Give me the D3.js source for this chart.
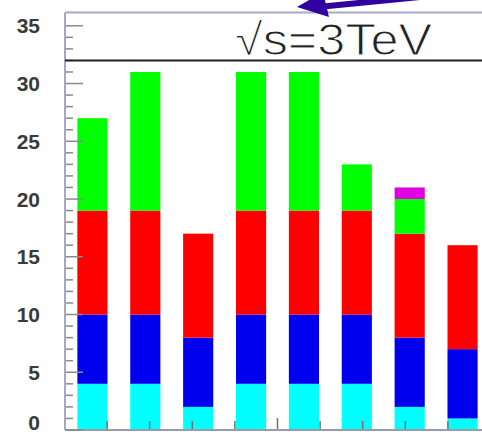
<!DOCTYPE html>
<html>
<head>
<meta charset="utf-8">
<script src="https://cdn.jsdelivr.net/npm/d3@7/dist/d3.min.js"></script>
<style>
  html, body { margin: 0; padding: 0; background: #fff; }
  svg { display: block; }
</style>
</head>
<body>
<svg id="chart" width="482" height="437"></svg>
<script>
// Bins and stacked contributions per bin
const categories = ["1", "2", "3", "4", "5", "6", "7", "8"];
const cyanValues    = [4, 4, 2, 4, 4, 4, 2, 1];
const blueValues    = [6, 6, 6, 6, 6, 6, 6, 6];
const redValues     = [9, 9, 9, 9, 9, 9, 9, 9];
const greenValues   = [8, 12, 0, 12, 12, 4, 3, 0];
const magentaValues = [0, 0, 0, 0, 0, 0, 1, 0];
const seriesKeys   = ["cyan", "blue", "red", "green", "magenta"];
const seriesColors = ["#00ffff", "#0000ee", "#ff0000", "#00ff00", "#e000e0"];
const yTickLabels  = [0, 5, 10, 15, 20, 25, 30, 35];
const limitValue   = 32;
const titleText    = "\u221As=3TeV";

const rows = categories.map((c, i) => ({
  cat: c,
  cyan: cyanValues[i],
  blue: blueValues[i],
  red: redValues[i],
  green: greenValues[i],
  magenta: magentaValues[i]
}));

const svg = d3.select("#chart");
const frameLeft = 65, frameRight = 490, frameTop = 12.5, frameBottom = 430;

const x = d3.scaleBand().domain(categories).range([66, 489]).paddingInner(0.43).paddingOuter(0.215);
const y = d3.scaleLinear().domain([0, 36.15]).range([frameBottom, frameTop]);
const xDiv = d3.scaleLinear().domain([0, 10]).range([64.5, 490.5]);

const stack = d3.stack().keys(seriesKeys);
const layers = stack(rows);

// stacked bars
svg.append("g").selectAll("g")
  .data(layers)
  .join("g")
  .attr("fill", (d, i) => seriesColors[i])
  .selectAll("rect")
  .data(d => d.filter(s => s[1] > s[0]))
  .join("rect")
  .attr("x", d => x(d.data.cat))
  .attr("width", x.bandwidth())
  .attr("y", d => y(d[1]))
  .attr("height", d => y(d[0]) - y(d[1]));

// frame lines
const frameColor = "#a8a8c6";
svg.append("line").attr("x1", frameLeft).attr("x2", frameLeft)
  .attr("y1", frameTop).attr("y2", frameBottom)
  .attr("stroke", frameColor).attr("stroke-width", 2);
svg.append("line").attr("x1", frameLeft).attr("x2", frameRight)
  .attr("y1", frameTop).attr("y2", frameTop)
  .attr("stroke", frameColor).attr("stroke-width", 2);
svg.append("line").attr("x1", frameLeft).attr("x2", frameRight)
  .attr("y1", frameBottom).attr("y2", frameBottom)
  .attr("stroke", "#9a9aae").attr("stroke-width", 2);

// y ticks: minor at each unit, major every 5
const yTicks = d3.range(0, 36);
svg.append("g").selectAll("line")
  .data(yTicks)
  .join("line")
  .attr("x1", frameLeft + 1)
  .attr("x2", d => frameLeft + 1 + (d % 5 === 0 ? 17 : 7))
  .attr("y1", d => y(d)).attr("y2", d => y(d))
  .attr("stroke", "#8a8a8a").attr("stroke-width", 1.5);

// y tick labels (the lowest one nudged up to stay inside the view)
svg.append("g").selectAll("text")
  .data(yTickLabels)
  .join("text")
  .attr("x", 40)
  .attr("y", d => Math.min(y(d), 422))
  .attr("dy", "0.36em")
  .attr("text-anchor", "end")
  .attr("font-family", "Liberation Sans, Arial, sans-serif")
  .attr("font-weight", "bold")
  .attr("font-size", 21)
  .attr("fill", "#3a3a3a")
  .text(d => d);

// x division ticks
svg.append("g").selectAll("line")
  .data(d3.range(1, 10))
  .join("line")
  .attr("x1", d => xDiv(d)).attr("x2", d => xDiv(d))
  .attr("y1", frameBottom - 1)
  .attr("y2", d => frameBottom - 1 - (d === 5 ? 11 : 8))
  .attr("stroke", "#707070").attr("stroke-width", 1.5);

// limit line
svg.append("line")
  .attr("x1", frameLeft).attr("x2", frameRight)
  .attr("y1", y(limitValue)).attr("y2", y(limitValue))
  .attr("stroke", "#222").attr("stroke-width", 2);

// energy label, drawn in a light stroke weight
svg.append("text")
  .attr("x", 235)
  .attr("y", y(limitValue) - 5)
  .attr("font-family", "Liberation Sans, Arial, sans-serif")
  .attr("font-size", 45)
  .attr("fill", "#222")
  .attr("stroke", "#fff")
  .attr("stroke-width", 1.1)
  .attr("textLength", 197)
  .attr("lengthAdjust", "spacingAndGlyphs")
  .text(titleText);

// pointer arrow at the top
const arrowColor = "#3000a0";
svg.append("path")
  .attr("d", "M 420 -3 L 318 7")
  .attr("stroke", arrowColor).attr("stroke-width", 6).attr("fill", "none");
svg.append("path")
  .attr("d", "M 297 7 L 329 17 L 323 -8 Z")
  .attr("fill", arrowColor);
</script>
</body>
</html>
